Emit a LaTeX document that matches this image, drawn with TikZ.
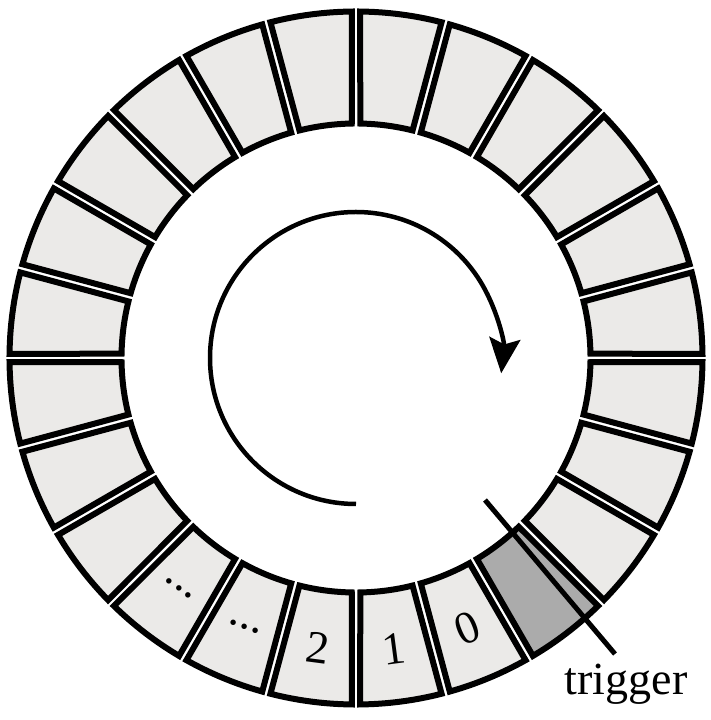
\documentclass[tikz,border=0pt]{standalone}
\usepackage{fontspec}
\setmainfont{Liberation Serif}
\usetikzlibrary{arrows.meta}
\definecolor{cellfill}{RGB}{235,234,232}
\definecolor{trigfill}{RGB}{171,171,171}
\begin{document}
\begin{tikzpicture}[x=1pt,y=1pt,
  cell/.style={draw=black, line width=6pt, fill=cellfill},
  lbl/.style={inner sep=0pt, font=\fontsize{46}{46}\selectfont},
  pointer/.style={draw=black, line width=5pt},
]
\fill[white] (0,0) rectangle (710,720);
\useasboundingbox (0,0) rectangle (710,720);
\begin{scope}[shift={(356,362)}]
\def\Rin{234.5}\def\Rout{346.5}\def\din{1.04}\def\dout{0.70}
\foreach \i in {0,...,23}{
  \pgfmathsetmacro\ta{15*\i}
  \pgfmathsetmacro\tb{15*\i+15}
  \ifnum\i=20 \def\fc{trigfill}\else\def\fc{cellfill}\fi
  \path[cell, fill=\fc] ({\ta+\din}:\Rin) -- ({\ta+\dout}:\Rout)
    arc[start angle=\ta+\dout, end angle=\tb-\dout, radius=\Rout]
    -- ({\tb-\din}:\Rin)
    arc[start angle=\tb-\din, end angle=\ta+\din, radius=\Rin] -- cycle;
}
\node[lbl, rotate=-37.5, anchor=base] (e1) at (232.5:293) {...};
\node[lbl, rotate=-22.5, anchor=base] (e2) at (247.5:293) {...};
\node[lbl, rotate=-7.5] (l2) at (262.5:292) {2};
\node[lbl, rotate=7.5] (l1) at (277.5:293) {1};
\node[lbl, rotate=22.5] (l0) at (292.5:292) {0};
\coordinate (as) at (270:146);
\draw[line width=4.5pt, -{Stealth[length=35pt,width=31pt,inset=6pt]}]
  (as) arc[start angle=270, end angle=-6, radius=146];
\end{scope}
\coordinate (t1) at (485,220);
\coordinate (t2) at (615,66);
\draw[pointer] (t1) -- (t2);
\node[lbl, anchor=base] (trig) at (626,25) {trigger};
\end{tikzpicture}
\end{document}
